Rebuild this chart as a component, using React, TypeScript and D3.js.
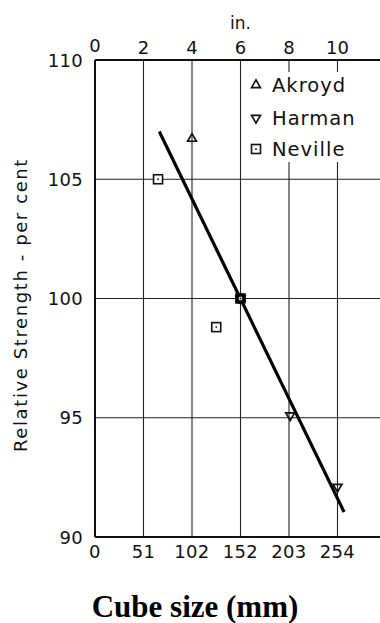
import React from "react";
import * as d3 from "d3";

const inchTicks = [0, 2, 4, 6, 8, 10];
const mmTickLabels = ["0", "51", "102", "152", "203", "254"];
const strengthTicks = [90, 95, 100, 105, 110];
const gridInches = [2, 4, 6, 8, 10];
const gridStrength = [95, 100, 105];

const akroydX = [4, 6];
const akroydY = [106.7, 100];
const harmanX = [8.05, 10, 6];
const harmanY = [95.1, 92.1, 100];
const nevilleX = [2.6, 5, 6];
const nevilleY = [105, 98.8, 100];
const fitX = [2.65, 10.27];
const fitY = [107.0, 91.05];

const legendNames = ["Akroyd", "Harman", "Neville"];

const W = 380;
const H = 623;
const font = "'DejaVu Sans', sans-serif";

export default function App() {
  const x = d3.scaleLinear().domain([0, 12]).range([95, 386]);
  const y = d3.scaleLinear().domain([90, 110]).range([537, 60]);
  const line = d3
    .line<[number, number]>()
    .x((d) => x(d[0]))
    .y((d) => y(d[1]));
  const triUp = d3.symbol().type(d3.symbolTriangle).size(34)();
  const fitPts: [number, number][] = fitX.map((v, i) => [v, fitY[i]]);

  const x0 = x(0);
  const xR = x(12);
  const legX = 243;
  const legTop = 72;
  const legBot = 162;

  const TriUp = ({ cx, cy }: { cx: number; cy: number }) => (
    <path d={triUp || ""} transform={`translate(${cx},${cy})`} fill="none" stroke="#111" strokeWidth={1.7} />
  );
  const TriDown = ({ cx, cy }: { cx: number; cy: number }) => (
    <path d={triUp || ""} transform={`translate(${cx},${cy}) rotate(180)`} fill="none" stroke="#111" strokeWidth={1.7} />
  );
  const Sq = ({ cx, cy }: { cx: number; cy: number }) => (
    <g>
      <rect x={cx - 4.5} y={cy - 4.5} width={9} height={9} fill="white" stroke="#111" strokeWidth={1.6} />
      <circle cx={cx} cy={cy} r={0.9} fill="#111" />
    </g>
  );

  return (
    <svg width={W} height={H} style={{ position: "absolute", left: 0, top: 0, background: "white" }}>
      <rect x={0} y={0} width={W} height={H} fill="white" />
      {gridInches.map((g) => (
        <line key={"gv" + g} x1={x(g)} x2={x(g)} y1={y(110)} y2={y(90)} stroke="#222" strokeWidth={1.1} />
      ))}
      {gridStrength.map((g) => (
        <line key={"gh" + g} x1={x0} x2={xR} y1={y(g)} y2={y(g)} stroke="#222" strokeWidth={1.1} />
      ))}
      <rect x={legX} y={legTop} width={W - legX} height={legBot - legTop} fill="white" />
      <line x1={x0} x2={xR} y1={y(110)} y2={y(110)} stroke="#111" strokeWidth={2} />
      <line x1={x0} x2={xR} y1={y(90)} y2={y(90)} stroke="#111" strokeWidth={2} />
      <line x1={x0} x2={x0} y1={y(110)} y2={y(90)} stroke="#111" strokeWidth={2} />

      <path d={line(fitPts) || ""} fill="none" stroke="#000" strokeWidth={3.2} />

      {nevilleX.map((v, i) => (
        <Sq key={"n" + i} cx={x(v)} cy={y(nevilleY[i])} />
      ))}
      {akroydX.map((v, i) => (
        <TriUp key={"a" + i} cx={x(v)} cy={y(akroydY[i])} />
      ))}
      {harmanX.map((v, i) => (
        <TriDown key={"h" + i} cx={x(v)} cy={y(harmanY[i])} />
      ))}
      <circle cx={x(6)} cy={y(100)} r={4} fill="none" stroke="#000" strokeWidth={2.6} />

      <TriUp cx={256} cy={85} />
      <TriDown cx={256} cy={118} />
      <Sq cx={256} cy={149} />
      {legendNames.map((n, i) => (
        <text key={n} x={272} y={[85, 118, 149][i] + 7} fontFamily={font} fontSize={19.5} letterSpacing={1} fill="#111">
          {n}
        </text>
      ))}

      {strengthTicks.map((t) => (
        <text key={"yt" + t} x={83} y={y(t) + 6.5} textAnchor="end" fontFamily={font} fontSize={18} fill="#111" letterSpacing={0.3}>
          {t}
        </text>
      ))}
      {inchTicks.map((t) => (
        <text key={"it" + t} x={x(t)} y={t === 0 ? 52 : 54} textAnchor="middle" fontFamily={font} fontSize={18} fill="#111">
          {t}
        </text>
      ))}
      <text x={x(6)} y={29} textAnchor="middle" fontFamily={font} fontSize={17} fill="#111">
        in.
      </text>
      {inchTicks.map((t, i) => (
        <text key={"mt" + t} x={x(t)} y={558} textAnchor="middle" fontFamily={font} fontSize={18} fill="#111" letterSpacing={0.3}>
          {mmTickLabels[i]}
        </text>
      ))}
      <text
        transform={`translate(27,305) rotate(-90)`}
        textAnchor="middle"
        fontFamily={font}
        fontSize={18}
        letterSpacing={1.6}
        fill="#111"
      >
        Relative Strength - per cent
      </text>
      <text x={195} y={617} textAnchor="middle" fontFamily="'Liberation Serif', 'Times New Roman', serif" fontWeight="bold" fontSize={31} fill="#000">
        Cube size (mm)
      </text>
    </svg>
  );
}
